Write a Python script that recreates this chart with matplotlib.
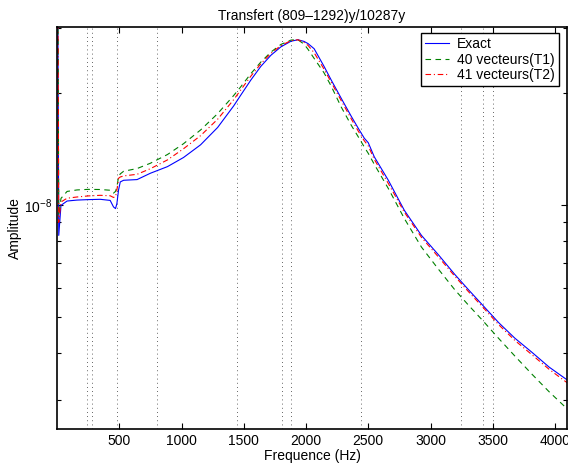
import numpy as np
import matplotlib
matplotlib.use("Agg")
import matplotlib.pyplot as plt
from matplotlib.ticker import FixedLocator, NullFormatter, FixedFormatter

plt.rcParams['font.family'] = ['Liberation Sans', 'DejaVu Sans']

# frequency grid (Hz)
freq = [0, 6, 14, 32, 81, 160, 250, 347, 427, 454, 470, 481, 494, 508, 535, 643,
        750, 887, 1016, 1153, 1290, 1419, 1476, 1556, 1637, 1718, 1798, 1879, 1935,
        1984, 2016, 2065, 2145, 2202, 2282, 2363, 2419, 2468, 2500, 2548, 2661,
        2790, 2927, 3065, 3194, 3306, 3411, 3548, 3677, 3815, 3952, 4113]

# amplitudes in units of 1e-9
exact = [2000, 40, 8.3, 10.0, 10.27, 10.33, 10.36, 10.38, 10.31, 9.90, 9.80, 10.11,
         10.98, 11.56, 11.68, 11.73, 12.20, 12.71, 13.45, 14.55, 16.20, 18.52, 19.80,
         21.72, 23.66, 25.35, 26.70, 27.65, 27.90, 27.62, 27.25, 26.40, 23.65, 21.75,
         19.43, 17.37, 16.13, 15.16, 14.74, 13.51, 11.68, 9.69, 8.30, 7.35, 6.52,
         5.92, 5.42, 4.83, 4.39, 4.02, 3.67, 3.36]

vect40 = [2000, 50, 9.4, 10.44, 10.9, 11.0, 11.04, 11.03, 10.98, 10.79, 10.9, 11.20,
          11.92, 12.15, 12.35, 12.56, 12.98, 13.70, 14.65, 15.95, 17.65, 19.75, 20.85,
          22.60, 24.30, 25.85, 27.10, 27.85, 27.90, 27.16, 26.30, 24.86, 22.72, 20.94,
          18.41, 16.43, 15.30, 14.35, 13.80, 12.90, 11.10, 9.21, 7.72, 6.72, 5.93,
          5.38, 4.93, 4.38, 3.93, 3.51, 3.15, 2.80]

vect41 = [2000, 45, 9.0, 10.21, 10.45, 10.53, 10.6, 10.64, 10.61, 10.5, 10.55, 10.98,
          11.82, 11.92, 12.0, 12.12, 12.55, 13.25, 14.20, 15.40, 17.05, 19.25, 20.45,
          22.25, 24.05, 25.65, 26.92, 27.75, 27.90, 27.45, 26.95, 25.75, 23.25, 21.45,
          19.15, 17.10, 15.85, 14.92, 14.45, 13.30, 11.45, 9.58, 8.20, 7.25, 6.45,
          5.85, 5.36, 4.77, 4.33, 3.96, 3.62, 3.30]

# natural frequencies marked by dotted lines
modes = [240, 285, 481, 806, 1444, 1806, 1879, 2438, 3244, 3419, 3502]

xticks = [500, 1000, 1500, 2000, 2500, 3000, 3500, 4000]

f = np.array(freq)
fig = plt.figure(figsize=(5.68, 4.67), dpi=100)
ax = fig.add_axes([57/568, 1-429/467, 510/568, 402/467])

for m in modes:
    ax.axvline(m, color='k', linestyle=(0, (1, 4)), lw=0.6, alpha=0.8)

ax.semilogy(f, np.array(exact)*1e-9, color='b', lw=0.8, label='Exact')
ax.semilogy(f, np.array(vect40)*1e-9, color=(0, 0.5, 0), lw=0.8,
            linestyle=(0, (5, 4)), label='40 vecteurs(T1)')
ax.semilogy(f, np.array(vect41)*1e-9, color='r', lw=0.8,
            linestyle=(0, (5, 2.5, 1, 2.5)), label='41 vecteurs(T2)')

ax.set_xlim(0, 4096)
ax.set_ylim(2.5e-9, 3.02e-8)
ax.set_xticks(xticks)
ax.set_xticklabels([str(t) for t in xticks])
ax.yaxis.set_major_locator(FixedLocator([1e-8]))
ax.yaxis.set_major_formatter(FixedFormatter([r'$\mathregular{10^{-8}}$']))
ax.yaxis.set_minor_locator(FixedLocator([3e-9, 4e-9, 5e-9, 6e-9, 7e-9, 8e-9, 9e-9, 2e-8, 3e-8]))
ax.yaxis.set_minor_formatter(NullFormatter())
ax.tick_params(which='both', direction='in', top=True, right=True, labelsize=10, width=0.8)
ax.tick_params(which='major', length=4)
ax.tick_params(which='minor', length=3)
for s in ax.spines.values():
    s.set_linewidth(1.2)

ax.set_title('Transfert (809\u20131292)y/10287y', fontsize=10, pad=5)
ax.set_xlabel('Frequence (Hz)', fontsize=10, labelpad=1)
ax.set_ylabel('Amplitude', fontsize=10)
ax.yaxis.set_label_coords(-0.068, 0.5)

leg = ax.legend(loc='upper right', bbox_to_anchor=((559 - 57)/510, 1 - 6/402),
                bbox_transform=ax.transAxes, borderaxespad=0,
                fontsize=10, fancybox=False, framealpha=1,
                edgecolor='k', handlelength=1.7, handletextpad=0.6,
                borderpad=0.3, labelspacing=0.1)
leg.get_frame().set_linewidth(1.0)

fig.savefig('out.png', dpi=100)
